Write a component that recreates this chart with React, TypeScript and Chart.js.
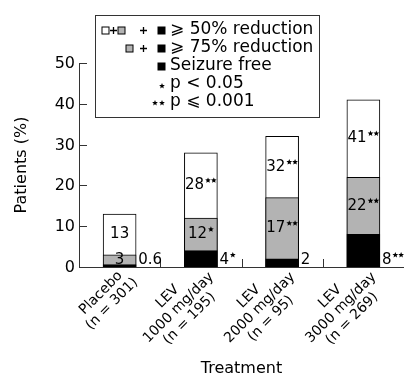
import React, { useEffect, useRef } from "react";
import { Chart, registerables } from "chart.js";

Chart.register(...registerables);

const categories: string[][] = [
  ["Placebo", "(n = 301)"],
  ["LEV", "1000 mg/day", "(n = 195)"],
  ["LEV", "2000 mg/day", "(n = 95)"],
  ["LEV", "3000 mg/day", "(n = 269)"],
];
const reduction50 = [13, 28, 32, 41];
const reduction75 = [3, 12, 17, 22];
const seizureFree = [0.6, 4, 2, 8];
const reduction50Labels = ["13", "28", "32", "41"];
const reduction75Labels = ["3", "12", "17", "22"];
const seizureFreeLabels = ["0.6", "4", "2", "8"];
const reduction50Stars = [0, 2, 2, 2];
const reduction75Stars = [0, 1, 2, 2];
const seizureFreeStars = [0, 1, 0, 2];
const yTicks = [0, 10, 20, 30, 40, 50];
const legendLines = ["\u2A7E 50% reduction", "\u2A7E 75% reduction", "Seizure free", "p < 0.05", "p \u2A7D 0.001"];

const FONT = "'DejaVu Sans', sans-serif";
const GRAY = "#b3b3b3";
const AXIS = "#333333";

function drawStar(ctx: CanvasRenderingContext2D, x: number, y: number, r: number) {
  ctx.beginPath();
  for (let i = 0; i < 10; i++) {
    const rad = i % 2 === 0 ? r : r * 0.45;
    const a = -Math.PI / 2 + (i * Math.PI) / 5;
    const px = x + rad * Math.cos(a);
    const py = y + rad * Math.sin(a);
    if (i === 0) ctx.moveTo(px, py);
    else ctx.lineTo(px, py);
  }
  ctx.closePath();
  ctx.fillStyle = "#000";
  ctx.fill();
}

function drawPlus(ctx: CanvasRenderingContext2D, x: number, y: number) {
  ctx.strokeStyle = "#000";
  ctx.lineWidth = 1.3;
  ctx.beginPath();
  ctx.moveTo(x - 3.5, y);
  ctx.lineTo(x + 3.5, y);
  ctx.moveTo(x, y - 3.5);
  ctx.lineTo(x, y + 3.5);
  ctx.stroke();
}

function drawLabel(
  ctx: CanvasRenderingContext2D,
  text: string,
  stars: number,
  x: number,
  y: number,
  align: "center" | "left"
) {
  ctx.font = `15px ${FONT}`;
  ctx.textAlign = "left";
  ctx.textBaseline = "middle";
  ctx.fillStyle = "#000";
  const w = ctx.measureText(text).width;
  const step = 5.8;
  const extra = stars > 0 ? 1 + stars * step : 0;
  const start = align === "center" ? x - (w + extra) / 2 : x;
  ctx.fillText(text, start, y);
  for (let i = 0; i < stars; i++) {
    drawStar(ctx, start + w + 1 + step / 2 + i * step, y - 5, 3);
  }
}

function square(ctx: CanvasRenderingContext2D, cx: number, cy: number, fill: string) {
  ctx.fillStyle = fill;
  ctx.fillRect(cx - 3.5, cy - 3.5, 7, 7);
  ctx.strokeStyle = "#000";
  ctx.lineWidth = 1;
  ctx.strokeRect(cx - 3.5, cy - 3.5, 7, 7);
}

const decorPlugin = {
  id: "decor",
  afterDraw(chart: any) {
    const ctx: CanvasRenderingContext2D = chart.ctx;
    const xs = chart.scales.x;
    const ys = chart.scales.y;
    const area = chart.chartArea;
    const y0 = ys.getPixelForValue(0);
    ctx.save();

    // y ticks (inward) and labels
    ctx.strokeStyle = AXIS;
    ctx.lineWidth = 1;
    ctx.font = `16px ${FONT}`;
    ctx.fillStyle = "#000";
    ctx.textAlign = "right";
    ctx.textBaseline = "middle";
    yTicks.forEach((v) => {
      const py = Math.round(ys.getPixelForValue(v)) + 0.5;
      if (v !== 0) {
        ctx.beginPath();
        ctx.moveTo(area.left, py);
        ctx.lineTo(area.left + 8, py);
        ctx.stroke();
      }
      ctx.fillText(String(v), area.left - 4, py);
    });

    // x ticks between categories (inward)
    for (let i = 0; i < categories.length - 1; i++) {
      const px = Math.round((xs.getPixelForValue(i) + xs.getPixelForValue(i + 1)) / 2) + 0.5;
      ctx.beginPath();
      ctx.moveTo(px, y0);
      ctx.lineTo(px, y0 - 8);
      ctx.stroke();
    }

    // bar value labels
    const meta = chart.getDatasetMeta(0);
    categories.forEach((_, i) => {
      const cx = xs.getPixelForValue(i);
      const bar = meta.data[i];
      const halfW = bar ? bar.width / 2 : 16.5;
      const yw = ys.getPixelForValue((reduction50[i] + reduction75[i]) / 2);
      drawLabel(ctx, reduction50Labels[i], reduction50Stars[i], cx, yw, "center");
      const yg = ys.getPixelForValue((reduction75[i] + seizureFree[i]) / 2);
      drawLabel(ctx, reduction75Labels[i], reduction75Stars[i], cx, yg, "center");
      drawLabel(ctx, seizureFreeLabels[i], seizureFreeStars[i], cx + halfW + 2, y0 - 7, "left");
    });

    // x category labels, rotated -45
    ctx.font = `14px ${FONT}`;
    ctx.textAlign = "center";
    ctx.textBaseline = "middle";
    ctx.fillStyle = "#000";
    const lh = 15.5;
    categories.forEach((lines, i) => {
      const cx = xs.getPixelForValue(i);
      const maxW = Math.max(...lines.map((l) => ctx.measureText(l).width));
      const uc = 2 - maxW / 2;
      lines.forEach((line, j) => {
        const v = 13 + (j - (lines.length - 1) / 2) * lh;
        const px = cx + (uc + v) / Math.SQRT2;
        const py = y0 + (-uc + v) / Math.SQRT2;
        ctx.save();
        ctx.translate(px, py);
        ctx.rotate(-Math.PI / 4);
        ctx.fillText(line, 0, 0);
        ctx.restore();
      });
    });

    // axis titles
    ctx.font = `16px ${FONT}`;
    ctx.textAlign = "center";
    ctx.textBaseline = "middle";
    ctx.fillText("Treatment", (area.left + area.right) / 2, 369);
    ctx.save();
    ctx.translate(22, (area.top + area.bottom) / 2);
    ctx.rotate(-Math.PI / 2);
    ctx.fillText("Patients (%)", 0, 0);
    ctx.restore();

    // legend box
    ctx.fillStyle = "#fff";
    ctx.fillRect(95.5, 15.5, 224, 102);
    ctx.strokeStyle = AXIS;
    ctx.lineWidth = 1;
    ctx.strokeRect(95.5, 15.5, 224, 102);
    const rows = [30, 48, 66, 84, 102];
    ctx.font = `17px ${FONT}`;
    ctx.textAlign = "left";
    ctx.textBaseline = "middle";
    ctx.fillStyle = "#000";
    legendLines.forEach((t, k) => ctx.fillText(t, 170, rows[k]));
    // row 1
    square(ctx, 105.5, rows[0] + 0.5, "#fff");
    drawPlus(ctx, 113.5, rows[0] + 0.5);
    square(ctx, 121.5, rows[0] + 0.5, GRAY);
    drawPlus(ctx, 143.5, rows[0] + 0.5);
    square(ctx, 161.5, rows[0] + 0.5, "#000");
    // row 2
    square(ctx, 129.5, rows[1] + 0.5, GRAY);
    drawPlus(ctx, 143.5, rows[1] + 0.5);
    square(ctx, 161.5, rows[1] + 0.5, "#000");
    // row 3
    square(ctx, 161.5, rows[2] + 0.5, "#000");
    // rows 4, 5 stars
    drawStar(ctx, 162, rows[3] + 2, 3);
    drawStar(ctx, 155, rows[4] + 1, 3);
    drawStar(ctx, 162, rows[4] + 1, 3);

    ctx.restore();
  },
};

export default function App() {
  const canvasRef = useRef<HTMLCanvasElement | null>(null);
  useEffect(() => {
    document.body.style.margin = "0";
    const canvas = canvasRef.current;
    if (!canvas) return;
    const chart = new Chart(canvas, {
      type: "bar",
      data: {
        labels: categories.map((c) => c.join(" ")),
        datasets: [
          {
            label: "Seizure free",
            data: seizureFree,
            backgroundColor: "#000",
            borderColor: "#000",
            borderWidth: 1,
            order: 0,
          },
          {
            label: ">= 75% reduction",
            data: reduction75,
            backgroundColor: GRAY,
            borderColor: "#000",
            borderWidth: 1,
            order: 1,
          },
          {
            label: ">= 50% reduction",
            data: reduction50,
            backgroundColor: "#fff",
            borderColor: "#000",
            borderWidth: 1,
            order: 2,
          },
        ],
      },
      options: {
        responsive: false,
        animation: false,
        datasets: { bar: { grouped: false, barThickness: 33 } } as any,
        layout: { padding: { left: 71, right: 0, top: 63, bottom: 104 } },
        plugins: { legend: { display: false }, tooltip: { enabled: false } },
        scales: {
          x: {
            grid: { display: false },
            ticks: { display: false },
            border: { display: true, color: AXIS, width: 1 },
          },
          y: {
            min: 0,
            max: 50,
            grid: { display: false },
            ticks: { display: false, stepSize: 10 },
            border: { display: true, color: AXIS, width: 1 },
          },
        },
      },
      plugins: [decorPlugin],
    });
    return () => chart.destroy();
  }, []);
  return (
    <div style={{ width: 404, height: 379 }}>
      <canvas ref={canvasRef} width={404} height={379} />
    </div>
  );
}
